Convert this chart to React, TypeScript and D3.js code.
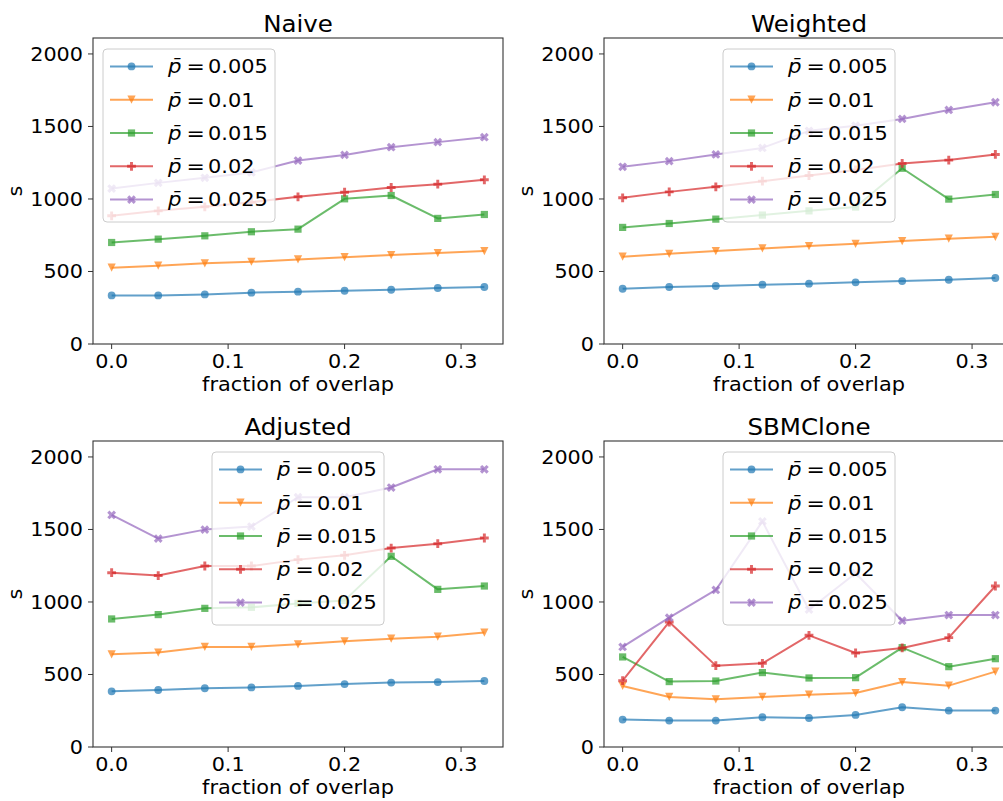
import React from 'react';
import * as d3 from 'd3';

// Fraction of overlap (shared x values for every series)
const overlap = [0, 0.04, 0.08, 0.12, 0.16, 0.2, 0.24, 0.28, 0.32];
const pBarLabels = ['0.005', '0.01', '0.015', '0.02', '0.025'];
const xTicks = [0, 0.1, 0.2, 0.3];
const yTicks = [0, 500, 1000, 1500, 2000];

// Naive
const naiveP005 = [335, 335, 342, 354, 361, 367, 374, 386, 393];
const naiveP010 = [526, 540, 556, 567, 583, 599, 613, 627, 641];
const naiveP015 = [700, 723, 746, 774, 792, 1001, 1024, 866, 893];
const naiveP020 = [884, 918, 946, 978, 1015, 1047, 1079, 1102, 1132];
const naiveP025 = [1072, 1111, 1146, 1183, 1265, 1304, 1357, 1392, 1426];

// Weighted
const weightedP005 = [381, 393, 400, 409, 416, 425, 434, 443, 455];
const weightedP010 = [602, 622, 641, 659, 675, 691, 710, 726, 739];
const weightedP015 = [804, 831, 861, 889, 918, 944, 1212, 999, 1031];
const weightedP020 = [1008, 1049, 1084, 1123, 1162, 1200, 1245, 1268, 1307];
const weightedP025 = [1222, 1261, 1307, 1352, 1470, 1505, 1552, 1614, 1667];

// Adjusted
const adjustedP005 = [384, 393, 405, 411, 421, 434, 444, 448, 455];
const adjustedP010 = [639, 651, 690, 690, 708, 729, 747, 761, 789];
const adjustedP015 = [883, 913, 956, 963, 990, 1011, 1315, 1087, 1110];
const adjustedP020 = [1202, 1182, 1248, 1248, 1292, 1322, 1372, 1402, 1441];
const adjustedP025 = [1600, 1437, 1499, 1520, 1722, 1722, 1789, 1915, 1915];

// SBMClone
const sbmP005 = [189, 182, 182, 205, 200, 221, 274, 251, 251];
const sbmP010 = [421, 345, 329, 345, 361, 372, 448, 423, 520];
const sbmP015 = [621, 451, 455, 513, 476, 478, 685, 554, 609];
const sbmP020 = [457, 862, 561, 577, 770, 648, 683, 754, 1110];
const sbmP025 = [690, 892, 1083, 1556, 947, 1198, 871, 910, 910];

const palette = ['#1f77b4', '#ff7f0e', '#2ca02c', '#d62728', '#9467bd'];
const FONT = 'DejaVu Sans, sans-serif';

// Custom marker shapes for d3.symbol (size = full marker width in px)
type Ctx = { moveTo: (x: number, y: number) => void; lineTo: (x: number, y: number) => void; closePath: () => void; arc: (...a: number[]) => void };
const polySymbol = (pts: number[][]) => ({
  draw(ctx: Ctx, size: number) {
    pts.forEach(([px, py], i) => (i ? ctx.lineTo(px * size, py * size) : ctx.moveTo(px * size, py * size)));
    ctx.closePath();
  },
});
const circleSym = {
  draw(ctx: Ctx, size: number) {
    const r = size / 2;
    ctx.moveTo(r, 0);
    ctx.arc(0, 0, r, 0, 2 * Math.PI);
  },
};
const triDownSym = polySymbol([[0, 0.5], [-0.5, -0.5], [0.5, -0.5]]);
const squareSym = polySymbol([[-0.5, -0.5], [0.5, -0.5], [0.5, 0.5], [-0.5, 0.5]]);
const plusSym = polySymbol(
  [[-1, -3], [-1, -1], [-3, -1], [-3, 1], [-1, 1], [-1, 3], [1, 3], [1, 1], [3, 1], [3, -1], [1, -1], [1, -3]].map(([a, b]) => [a / 6, b / 6])
);
const xSym = polySymbol(
  [[-1, -2], [0, -1], [1, -2], [2, -1], [1, 0], [2, 1], [1, 2], [0, 1], [-1, 2], [-2, 1], [-1, 0], [-2, -1]].map(([a, b]) => [a / 4, b / 4])
);
const markers = [
  { type: circleSym, size: 7.8 },
  { type: triDownSym, size: 8.2 },
  { type: squareSym, size: 7.2 },
  { type: plusSym, size: 8.8 },
  { type: xSym, size: 8.8 },
];
const markerPath = (i: number) => d3.symbol().type(markers[i].type as any).size(markers[i].size)() as string;

const ALPHA = 0.7;
const PW = 410;
const PH = 306;

// Text drawn slightly wide (horizontal scale about its anchor point)
type TProps = {
  x: number;
  y: number;
  size: number;
  sx?: number;
  anchor?: 'start' | 'middle' | 'end';
  rotate?: number;
  italic?: boolean;
  children: React.ReactNode;
};
function T({ x, y, size, sx = 1.08, anchor = 'start', rotate = 0, italic = false, children }: TProps) {
  return (
    <text
      transform={`translate(${x},${y})${rotate ? ` rotate(${rotate})` : ''} scale(${sx},1)`}
      textAnchor={anchor}
      fontSize={size}
      fontStyle={italic ? 'italic' : 'normal'}
      fill="#000"
    >
      {children}
    </text>
  );
}

type PanelProps = { title: string; series: number[][]; left: number; top: number; legendAt: 'upper left' | 'upper center' };

function Panel({ title, series, left, top, legendAt }: PanelProps) {
  const x = d3.scaleLinear().domain([-0.016, 0.336]).range([left, left + PW]);
  const y = d3.scaleLinear().domain([0, 2110]).range([top + PH, top]);
  const line = d3
    .line<number>()
    .x((_, i) => x(overlap[i]))
    .y((d) => y(d));
  const fmt = d3.format('.1f');
  const bottom = top + PH;

  const legW = 172;
  const legH = 173;
  const lx = legendAt === 'upper left' ? left + 10 : left + PW / 2 - legW / 2;
  const ly = top + 11;

  return (
    <g fontFamily={FONT}>
      <T x={left + PW / 2} y={top - 6.5} size={22.5} sx={1.09} anchor="middle">
        {title}
      </T>
      {series.map((vals, si) => (
        <g key={si} fill={palette[si]} stroke={palette[si]}>
          <path d={line(vals) as string} fill="none" strokeWidth={2} strokeOpacity={ALPHA} strokeLinejoin="round" />
          {vals.map((v, i) => (
            <path key={i} d={markerPath(si)} transform={`translate(${x(overlap[i])},${y(v)})`} stroke="none" fillOpacity={ALPHA} />
          ))}
        </g>
      ))}
      {/* frame */}
      <rect x={left} y={top} width={PW} height={PH} fill="none" stroke="#333" strokeWidth={1.1} />
      {/* x axis */}
      {xTicks.map((t) => (
        <g key={t}>
          <line x1={x(t)} x2={x(t)} y1={bottom} y2={bottom + 5} stroke="#333" strokeWidth={1} />
          <T x={x(t)} y={bottom + 23.7} size={19.2} anchor="middle">
            {fmt(t)}
          </T>
        </g>
      ))}
      {/* y axis */}
      {yTicks.map((t) => (
        <g key={t}>
          <line x1={left - 5} x2={left} y1={y(t)} y2={y(t)} stroke="#333" strokeWidth={1} />
          <T x={left - 10} y={y(t) + 7} size={19.2} anchor="end">
            {t}
          </T>
        </g>
      ))}
      <T x={left + PW / 2} y={bottom + 46.5} size={19.5} sx={1.07} anchor="middle">
        fraction of overlap
      </T>
      <T x={left - 71} y={top + PH / 2} size={19.5} sx={1.07} anchor="middle" rotate={-90}>
        s
      </T>
      {/* legend */}
      <rect x={lx} y={ly} width={legW} height={legH} rx={4} fill="#fff" fillOpacity={0.8} stroke="#ccc" strokeWidth={1} />
      {pBarLabels.map((lab, si) => {
        const ry = ly + 17.4 + si * 33.3;
        return (
          <g key={lab}>
            <line x1={lx + 7} x2={lx + 50} y1={ry} y2={ry} stroke={palette[si]} strokeWidth={2} strokeOpacity={ALPHA} />
            <path d={markerPath(si)} transform={`translate(${lx + 28.5},${ry})`} fill={palette[si]} fillOpacity={ALPHA} />
            <T x={lx + 65} y={ry + 6.8} size={19} sx={1.12} italic>
              {'p\u0304'}
            </T>
            <T x={lx + 83.5} y={ry + 6.8} size={19} sx={1.15}>
              =
            </T>
            <T x={lx + 105} y={ry + 6.8} size={19} sx={1.1}>
              {lab}
            </T>
          </g>
        );
      })}
    </g>
  );
}

export default function App() {
  return (
    <svg width={1003} height={801} style={{ position: 'absolute', left: 0, top: 0, display: 'block', background: '#fff' }}>
      <rect width={1003} height={801} fill="#fff" />
      <Panel title="Naive" series={[naiveP005, naiveP010, naiveP015, naiveP020, naiveP025]} left={93} top={38} legendAt="upper left" />
      <Panel title="Weighted" series={[weightedP005, weightedP010, weightedP015, weightedP020, weightedP025]} left={604} top={38} legendAt="upper center" />
      <Panel title="Adjusted" series={[adjustedP005, adjustedP010, adjustedP015, adjustedP020, adjustedP025]} left={93} top={441} legendAt="upper center" />
      <Panel title="SBMClone" series={[sbmP005, sbmP010, sbmP015, sbmP020, sbmP025]} left={604} top={441} legendAt="upper center" />
    </svg>
  );
}
